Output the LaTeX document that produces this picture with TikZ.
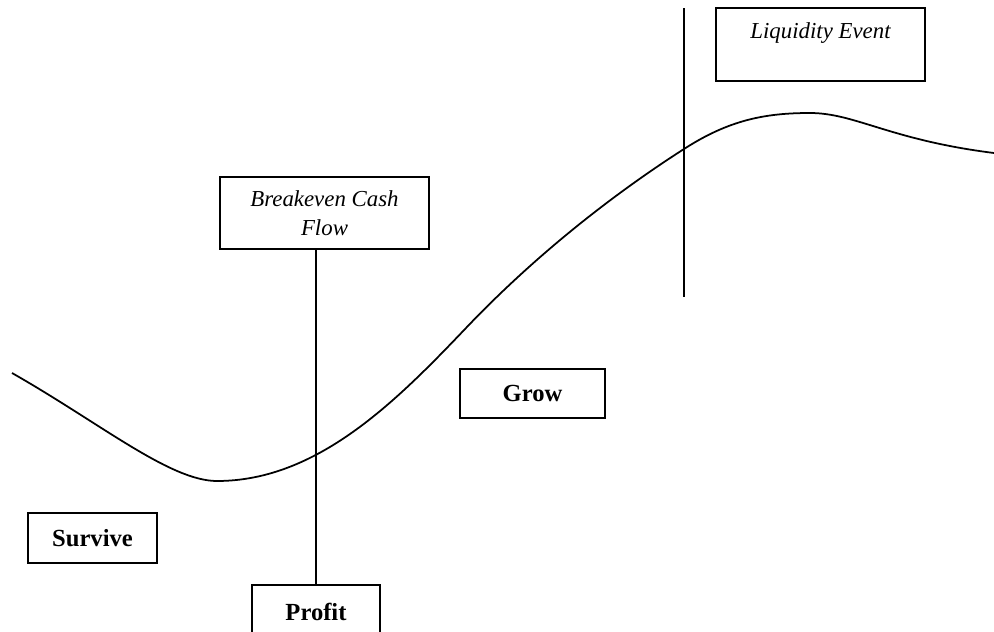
\documentclass[tikz,border=0pt]{standalone}
\usepackage{fontspec}
\setmainfont{Liberation Serif}

\begin{document}
\begin{tikzpicture}[x=0.02cm,y=-0.02cm,line width=1pt,
  box/.style={draw,rectangle,align=center,inner sep=0pt},
  ital/.style={font=\fontsize{13}{16.4}\selectfont\itshape},
  bld/.style={font=\fontsize{14}{17}\selectfont\bfseries}]
\useasboundingbox (0,0) rectangle (994,632);
\clip (0,0) rectangle (994,632);
\node[box,ital,minimum width=4.18cm,minimum height=1.46cm](liq)at(820.5,44.5){Liquidity Event\\~};
\node[box,ital,minimum width=4.18cm,minimum height=1.44cm](brk)at(324.5,213){Breakeven Cash\\Flow};
\node[box,bld,minimum width=2.9cm,minimum height=0.98cm](grow)at(532.5,393.5){Grow};
\node[box,bld,minimum width=2.58cm,minimum height=1cm](surv)at(92.5,538){Survive};
\node[box,bld,minimum width=2.56cm,minimum height=1.08cm](prof)at(316,612){Profit};
\coordinate(exit top)at(684,8);
\coordinate(exit bot)at(684,297);
\draw(prof.north)--(prof.north|-brk.south)(exit top)--(exit bot);
\draw(12,373)..controls(100,423)and(170,481)..(217,481)
  ..controls(317,481)and(396,401.5)..(466,328)
  ..controls(536,254.5)and(614,193.8)..(684,149)
  ..controls(729,120)and(765,113)..(810,113)
  ..controls(855,113)and(890,140)..(994,153);
\end{tikzpicture}
\end{document}
